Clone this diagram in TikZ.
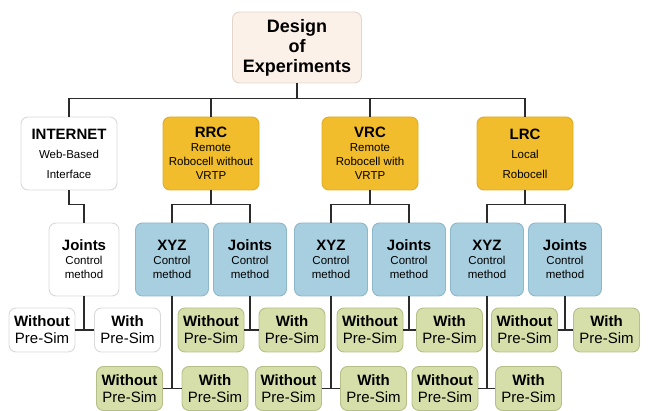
\documentclass[tikz,border=0pt]{standalone}
\usepackage{fontspec}
\setmainfont{Liberation Sans}

\definecolor{peach}{HTML}{FBF1E8}
\definecolor{peachline}{HTML}{E2D6CC}
\definecolor{gold}{HTML}{F2BD2C}
\definecolor{goldline}{HTML}{E0AC28}
\definecolor{greyline}{HTML}{D9D9D9}
\definecolor{methodblue}{HTML}{A8CFE0}
\definecolor{methodline}{HTML}{8DB7CB}
\definecolor{simgreen}{HTML}{D6DEA9}
\definecolor{simline}{HTML}{B5C088}
\definecolor{linkcol}{HTML}{2B2B2B}

\newcommand{\tname}[1]{{\bfseries\fontsize{15}{17}\selectfont #1}}

\tikzset{
  box/.style={draw, rounded corners=7pt, line width=0.9pt, align=center, inner sep=0pt,
    font=\fontsize{11.5}{14}\selectfont},
  main/.style={box, draw=peachline, fill=peach, minimum width=129pt, minimum height=71pt,
    font=\bfseries\fontsize{18}{20}\selectfont},
  robot/.style={box, draw=goldline, fill=gold, minimum width=96pt, minimum height=73pt},
  web/.style={box, draw=greyline, fill=white, minimum width=96pt, minimum height=73pt},
  method/.style={box, draw=methodline, fill=methodblue, minimum width=73pt, minimum height=73pt},
  webmethod/.style={method, draw=greyline, fill=white, minimum width=70pt},
  presim/.style={box, draw=simline, fill=simgreen, minimum width=66pt, minimum height=44pt,
    font=\fontsize{15}{17}\selectfont},
  websim/.style={presim, draw=greyline, fill=white},
  link/.style={draw=linkcol, line width=1.6pt},
}

\begin{document}
\begin{tikzpicture}[x=1pt,y=-1pt]
\useasboundingbox (0,0) rectangle (649,411);

% top
\node[main] (doe) at (297,47.5) {Design\\of\\Experiments};

% set ups
\node[web] (internet) at (69,153.5) {\tname{INTERNET}\\[5pt]Web-Based\\[6pt]Interface};
\node[robot] (rrc) at (211,153.5) {\tname{RRC}\\Remote\\Robocell without\\VRTP};
\node[robot] (vrc) at (370,153.5) {\tname{VRC}\\Remote\\Robocell with\\VRTP};
\node[robot] (lrc) at (525,153.5) {\tname{LRC}\\[5pt]Local\\[6pt]Robocell};

% control methods
\node[webmethod] (ijoints) at (84,259.5) {\tname{Joints}\\Control\\method};
\node[method] (rxyz) at (172,259.5) {\tname{XYZ}\\Control\\method};
\node[method] (rjoints) at (250,259.5) {\tname{Joints}\\Control\\method};
\node[method] (vxyz) at (331,259.5) {\tname{XYZ}\\Control\\method};
\node[method] (vjoints) at (409,259.5) {\tname{Joints}\\Control\\method};
\node[method] (lxyz) at (487,259.5) {\tname{XYZ}\\Control\\method};
\node[method] (ljoints) at (565,259.5) {\tname{Joints}\\Control\\method};

% pre-sim
\foreach \n/\x/\y/\s in {iwo/42/330/websim, rjwo/211/330/presim, vjwo/370/330/presim,
    ljwo/524.5/330/presim, rxwo/129.5/388.5/presim, vxwo/288.5/388.5/presim,
    lxwo/445/388.5/presim}
  \node[\s] (\n) at (\x,\y) {\textbf{Without}\\Pre-Sim};
\foreach \n/\x/\y/\s in {iw/127.5/330/websim, rjw/292/330/presim, vjw/449.5/330/presim,
    ljw/606.5/330/presim, rxw/215/388.5/presim, vxw/373.5/388.5/presim,
    lxw/528.5/388.5/presim}
  \node[\s] (\n) at (\x,\y) {\textbf{With}\\Pre-Sim};

% links
\foreach \n in {internet,rrc,vrc,lrc}
  \draw[link] (doe.south) -- ++(0,15) -| (\n.north);
\draw[link] (internet.south) -- ++(0,14) -| (ijoints.north);
\foreach \p/\a/\b in {rrc/rxyz/rjoints, vrc/vxyz/vjoints, lrc/lxyz/ljoints}{
  \draw[link] (\p.south) -- ++(0,14) -| (\a.north);
  \draw[link] (\p.south) -- ++(0,14) -| (\b.north);
}
\foreach \m/\l/\r in {ijoints/iwo/iw, rjoints/rjwo/rjw, vjoints/vjwo/vjw, ljoints/ljwo/ljw,
    rxyz/rxwo/rxw, vxyz/vxwo/vxw, lxyz/lxwo/lxw}{
  \draw[link] (\l.east) -- (\r.west);
  \draw[link] (\m.south) -- (\m.south |- \l.east);
}
\end{tikzpicture}
\end{document}
